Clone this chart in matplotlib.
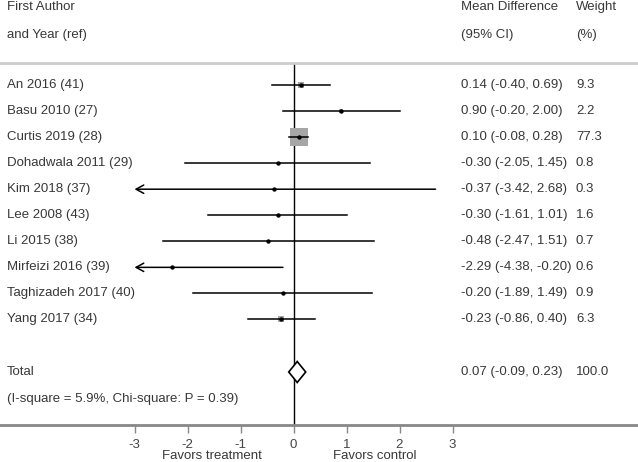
import matplotlib.pyplot as plt
from matplotlib.patches import Polygon
import numpy as np

plt.rcParams['font.family'] = ['Liberation Sans', 'DejaVu Sans']

# Données de l'étude
etudes = ["An 2016 (41)", "Basu 2010 (27)", "Curtis 2019 (28)", "Dohadwala 2011 (29)",
          "Kim 2018 (37)", "Lee 2008 (43)", "Li 2015 (38)", "Mirfeizi 2016 (39)",
          "Taghizadeh 2017 (40)", "Yang 2017 (34)"]
md = [0.14, 0.90, 0.10, -0.30, -0.37, -0.30, -0.48, -2.29, -0.20, -0.23]
bas = [-0.40, -0.20, -0.08, -2.05, -3.42, -1.61, -2.47, -4.38, -1.89, -0.86]
haut = [0.69, 2.00, 0.28, 1.45, 2.68, 1.01, 1.51, -0.20, 1.49, 0.40]
poids = [9.3, 2.2, 77.3, 0.8, 0.3, 1.6, 0.7, 0.6, 0.9, 6.3]
total = (0.07, -0.09, 0.23)
ticks = [-3, -2, -1, 0, 1, 2, 3]

W, H = 638, 462
fig = plt.figure(figsize=(W / 100, H / 100), dpi=100)
# axe principal : du trait de séparation (y=63 px) jusqu'à l'axe (y=425 px)
ax = fig.add_axes([0, (H - 425) / H, 1, (425 - 63) / H])
x0, echelle = 293.5, 53.0
ax.set_xlim(-x0 / echelle, (W - x0) / echelle)
ax.set_ylim(425, 63)

gris_texte = '#383838'
fs = 9.5

for s in ['left', 'right']:
    ax.spines[s].set_visible(False)
ax.spines['top'].set_color('#cccccc')
ax.spines['top'].set_linewidth(2)
ax.spines['bottom'].set_color('#888888')
ax.spines['bottom'].set_linewidth(2)
ax.set_yticks([])
ax.set_xticks(ticks)
ax.set_xticklabels([str(t) for t in ticks], fontsize=fs, color='#444444')
ax.tick_params(axis='x', length=6, width=1, color='#888888', pad=4)

ax.axvline(0, color='black', lw=1)

ys = [85 + 26.05 * i for i in range(len(etudes))]
cote_max = 18 * 0.72
for y, m, lo, hi, w in zip(ys, md, bas, haut, poids):
    if lo < -3:
        ax.annotate('', xy=(-3, y), xytext=(hi, y),
                    arrowprops=dict(arrowstyle='->,head_length=0.55,head_width=0.3',
                                    color='black', lw=1.1, shrinkA=0, shrinkB=0),
                    zorder=4)
    else:
        ax.plot([lo, hi], [y, y], color='black', lw=1.1, zorder=4)
    cote = cote_max * np.sqrt(w / 77.3)
    ax.scatter([m], [y], marker='s', s=cote ** 2, color='#a6a6a6', lw=0, zorder=3)
    ax.scatter([m], [y], marker='o', s=10, color='black', lw=0, zorder=5)

# losange du total
yt = 372
m, lo, hi = total
ax.add_patch(Polygon([[lo, yt], [m, yt - 10.5], [hi, yt], [m, yt + 10.5]],
                     closed=True, facecolor='white', edgecolor='black', lw=1.2, zorder=3))

def txt(xpx, ypx, s, **kw):
    fig.text(xpx / W, 1 - ypx / H, s, fontsize=fs, color=gris_texte, va='center', **kw)

txt(7, 7, "First Author")
txt(7, 35, "and Year (ref)")
txt(461, 7, "Mean Difference")
txt(461, 35, "(95% CI)")
txt(576, 7, "Weight")
txt(576, 35, "(%)")

for y, e, m, lo, hi, w in zip(ys, etudes, md, bas, haut, poids):
    txt(7, y, e)
    txt(461, y, f"{m:.2f} ({lo:.2f}, {hi:.2f})")
    txt(576, y, f"{w:.1f}")

txt(7, yt, "Total")
txt(461, yt, f"{total[0]:.2f} ({total[1]:.2f}, {total[2]:.2f})")
txt(576, yt, "100.0")
txt(7, 399, "(I-square = 5.9%, Chi-square: P = 0.39)")

txt(x0 - 1.54 * echelle, 456, "Favors treatment", ha='center')
txt(x0 + 1.54 * echelle, 456, "Favors control", ha='center')

fig.savefig('out.png', dpi=100)
